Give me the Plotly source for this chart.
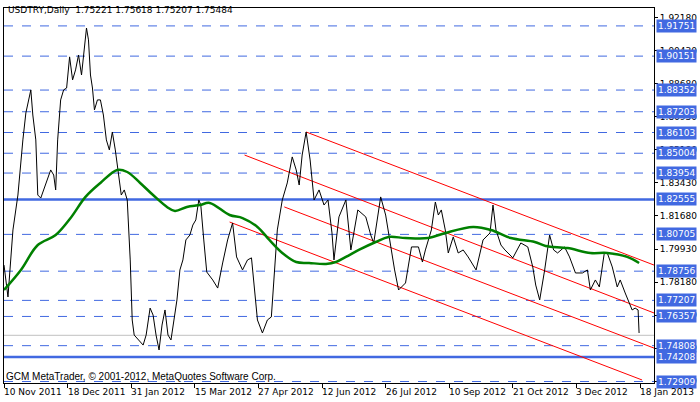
import plotly.graph_objects as go

price_x = [0,2,4.5,7,9.5,11,13.5,14.5,16,17,18.5,21,23.5,25,26,27,28.5,30,31.5,33,34.5,36,37.5,39,40.5,41.5,42.5,43.5,44.5,45.5,47,48.5,50,51.5,53,54.5,56,57.5,59,60.5,62,63.5,64.5,65.5,67,68.5,70,71.5,73.5,75,76.5,78,79.5,81,82.5,84,85.5,87,88.5,90,91.5,93.5,95,96.5,98,99,100.5,102,105,107.5,110,112.5,115,117,120,122.5,124.5,126,127.5,130,132.5,134.5,136,137.5,140,142.5,145,147,148.5,150,152,154,156,158.5,161,163,165,166,168.5,172,174.5,176.5,178,182,184.5,186,189.5,192,194.5,196.5,198.5,202,205,208.5,210.5,212,215,217,218.5,220,222,223.5,226,228.5,231,233.5,237.5,241,244.5,246,247.5,250,252,256,260,263.5,266,267.5,269.5,272,274.5,276.5,278.5,282,284.5,287.5,291,293.5,295,297.5,299.5,302,303.5,306,308.5,310,312.5,316,317.5,319,319.5]
price_y = [1.7908,1.7739,1.8094,1.8279,1.8571,1.8714,1.8836,1.8703,1.8571,1.8279,1.8263,1.8332,1.8412,1.8385,1.8306,1.8571,1.8783,1.8836,1.8846,1.9011,1.8889,1.8942,1.9021,1.8915,1.9048,1.9164,1.9101,1.8915,1.8846,1.8730,1.8783,1.8783,1.8703,1.8571,1.8518,1.8613,1.8518,1.8385,1.8279,1.8306,1.8253,1.7935,1.7617,1.7537,1.7521,1.7500,1.7484,1.7537,1.7680,1.7643,1.7537,1.7458,1.7590,1.7670,1.7537,1.7511,1.7617,1.7723,1.7882,1.7935,1.8041,1.8067,1.8120,1.8147,1.8253,1.8226,1.8041,1.7871,1.7829,1.7786,1.7919,1.8041,1.8131,1.7951,1.7882,1.7935,1.7946,1.7776,1.7617,1.7548,1.7617,1.7633,1.7882,1.8094,1.8253,1.8343,1.8481,1.8412,1.8332,1.8491,1.8613,1.8465,1.8253,1.8306,1.8226,1.8253,1.8078,1.7935,1.8163,1.8253,1.7988,1.8120,1.8200,1.8163,1.8067,1.8025,1.8269,1.8173,1.8004,1.7882,1.7776,1.7813,1.8004,1.8004,1.7924,1.7988,1.8094,1.8242,1.8173,1.8200,1.8094,1.7972,1.8057,1.7972,1.7988,1.7951,1.7882,1.8041,1.8078,1.8226,1.8094,1.8014,1.7988,1.7946,1.8025,1.8004,1.7898,1.7802,1.7723,1.7882,1.8067,1.7988,1.7972,1.8004,1.7951,1.7866,1.7866,1.7882,1.7776,1.7829,1.7792,1.7972,1.7972,1.7898,1.7792,1.7829,1.7760,1.7670,1.7680,1.7670,1.7548,1.7527]

ma_x = [0,8.5,17,26,33.5,41,48.5,57,62,68.5,75,82,86,92,98.5,103.5,113.5,120,127.5,133.5,140,147,153.5,162,167,172,178.5,187,193.5,202,213.5,222,236,245,255,267,272.5,283.5,295,303.5,313.5,319.5]
ma_y = [1.7776,1.7882,1.8014,1.8067,1.8157,1.8269,1.8343,1.8412,1.8401,1.8343,1.8279,1.8216,1.8195,1.8216,1.8226,1.8237,1.8173,1.8157,1.8110,1.8041,1.7972,1.7924,1.7919,1.7914,1.7924,1.7951,1.7988,1.8030,1.8057,1.8051,1.8051,1.8078,1.8110,1.8094,1.8051,1.8030,1.8009,1.7998,1.7972,1.7972,1.7951,1.7919]

channel_x0 = [152,121,141,113.5]
channel_y0 = [1.8613,1.8491,1.8216,1.8136]
channel_x1 = [327,327,327,321]
channel_y1 = [1.7908,1.7654,1.7468,1.7299]

dashed_levels = [1.91751,1.90151,1.88352,1.87203,1.86103,1.85004,1.83954,1.80705,1.78756,1.77207,1.76357,1.74808,1.72909]
solid_levels = [1.82555,1.74208]
bid_level = 1.75358
axis_ticks = [1.92180,1.90430,1.88680,1.86930,1.85180,1.83430,1.81680,1.79930,1.78180,1.76430,1.74680,1.72930]
date_pos = [0,32,64,96,128,160,192,224,256,288,320]
date_labels = ["10 Nov 2011","18 Dec 2011","31 Jan 2012","15 Mar 2012","27 Apr 2012","12 Jun 2012","26 Jul 2012","10 Sep 2012","21 Oct 2012","3 Dec 2012","18 Jan 2013"]

XMAX = 327
FONT = "DejaVu Sans"
FS = 9
fig = go.Figure()
shapes = []
for lv in dashed_levels:
    shapes.append(dict(type="line", xref="paper", x0=0, x1=1, y0=lv, y1=lv, line=dict(color="#4169E1", width=1, dash="dash"), layer="below"))
for lv in solid_levels:
    shapes.append(dict(type="line", xref="paper", x0=0, x1=1, y0=lv, y1=lv, line=dict(color="#4169E1", width=2.5), layer="below"))
shapes.append(dict(type="line", xref="paper", x0=0, x1=1, y0=bid_level, y1=bid_level, line=dict(color="#C0C0C0", width=1), layer="below"))
for a, b, c, d in zip(channel_x0, channel_y0, channel_x1, channel_y1):
    fig.add_trace(go.Scatter(x=[a, c], y=[b, d], mode="lines", line=dict(color="red", width=1), hoverinfo="skip"))

fig.add_trace(go.Scatter(x=price_x, y=price_y, mode="lines", line=dict(color="black", width=1)))
fig.add_trace(go.Scatter(x=ma_x, y=ma_y, mode="lines", line=dict(color="#008000", width=2.5, shape="spline")))

ann = []
for lv in dashed_levels + solid_levels:
    ann.append(dict(x=1, xref="paper", y=lv, yref="y", xanchor="left", yanchor="middle", xshift=2,
                    text=f"{lv:.5f}", showarrow=False, bgcolor="#4169E1", font=dict(color="white", size=FS, family=FONT), borderpad=1))
for p, t in zip(date_pos, date_labels):
    ann.append(dict(x=p, xref="x", y=0, yref="paper", xanchor="left", yanchor="top", yshift=-2, xshift=-2, text=t, showarrow=False, font=dict(size=FS, color="black", family=FONT)))
ann.append(dict(x=0, xref="paper", y=1, yref="paper", xanchor="left", yanchor="top", xshift=2, yshift=5,
                text="USDTRY,Daily  1.75221 1.75618 1.75207 1.75484", showarrow=False, font=dict(size=FS, color="black", family=FONT)))
ann.append(dict(x=0, xref="paper", y=0, yref="paper", xanchor="left", yanchor="bottom", xshift=0, yshift=-1,
                text="GCM MetaTrader, © 2001-2012, MetaQuotes Software Corp.", showarrow=False, font=dict(size=FS + 1, color="black", family="Liberation Sans")))

fig.update_layout(
    width=700, height=402, margin=dict(l=3, r=44, t=8, b=19),
    paper_bgcolor="white", plot_bgcolor="white", showlegend=False,
    shapes=shapes, annotations=ann,
    xaxis=dict(range=[0, XMAX], showgrid=False, zeroline=False, tickvals=date_pos, showticklabels=False,
               ticks="outside", ticklen=4, tickcolor="black", showline=True, linecolor="black", mirror=True),
    yaxis=dict(range=[1.7283, 1.9270], side="right", showgrid=False, zeroline=False, tickvals=axis_ticks,
               ticktext=[f"{v:.5f}" for v in axis_ticks], ticks="outside", ticklen=3, tickcolor="black",
               tickfont=dict(size=FS, color="black", family=FONT),
               showline=True, linecolor="black", mirror=True),
)
fig.write_html("out.html", config={"displayModeBar": False}, post_script="document.body.style.margin='0';")
